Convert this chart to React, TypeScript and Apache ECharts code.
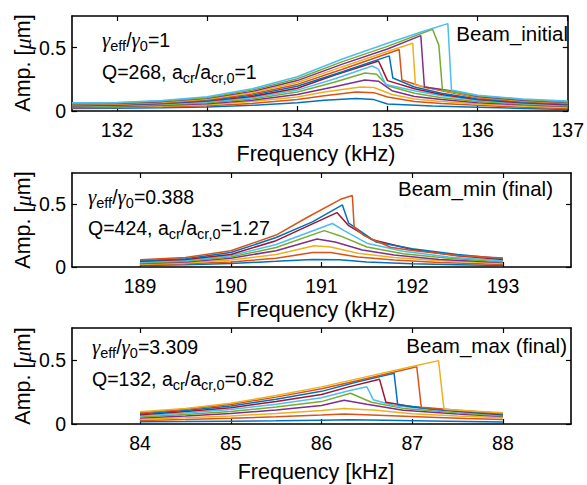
import React, { useEffect, useRef } from 'react';
import * as echarts from 'echarts';

const COLORS = ['#0072BD', '#D95319', '#EDB120', '#7E2F8E', '#77AC30', '#4DBEEE', '#A2142F'];
const FONT = '"Liberation Sans", Arial, Helvetica, sans-serif';
const SERIF = '"Liberation Serif", "DejaVu Serif", serif';

// ---- tick values ----
const initialTicks = [132, 133, 134, 135, 136, 137];
const minTicks = [189, 190, 191, 192, 193];
const maxTicks = [84, 85, 86, 87, 88];
const ampTicks = [0, 0.5];

// ---- panel 1: Beam_initial ----
const initial1 = [[131.5,0.02],[132,0.022],[132.5,0.025],[133,0.032],[133.5,0.045],[134,0.065],[134.3,0.085],[134.65,0.098],[134.85,0.09],[135,0.055],[135.5,0.04],[136,0.03],[136.5,0.02],[137,0.012]];
const initial2 = [[131.5,0.025],[132,0.028],[132.5,0.033],[133,0.042],[133.5,0.06],[134,0.09],[134.3,0.12],[134.65,0.15],[134.85,0.145],[135,0.11],[135.3,0.075],[135.6,0.06],[136,0.045],[136.5,0.03],[137,0.02]];
const initial3 = [[131.5,0.03],[132,0.033],[132.5,0.04],[133,0.05],[133.5,0.075],[134,0.11],[134.3,0.15],[134.7,0.19],[134.85,0.185],[135.05,0.13],[135.3,0.095],[135.6,0.075],[136,0.055],[136.5,0.04],[137,0.028]];
const initial4 = [[131.5,0.032],[132,0.036],[132.5,0.045],[133,0.058],[133.5,0.085],[134,0.13],[134.4,0.19],[134.75,0.245],[134.9,0.235],[135.05,0.16],[135.3,0.115],[135.6,0.09],[136,0.065],[136.5,0.05],[137,0.035]];
const initial5 = [[131.5,0.035],[132,0.04],[132.5,0.05],[133,0.065],[133.5,0.095],[134,0.15],[134.4,0.225],[134.75,0.3],[134.88,0.29],[135,0.2],[135.3,0.14],[135.6,0.105],[136,0.075],[136.5,0.055],[137,0.04]];
const initial6 = [[131.5,0.04],[132,0.045],[132.5,0.055],[133,0.072],[133.5,0.105],[134,0.165],[134.4,0.25],[134.83,0.355],[134.9,0.33],[134.98,0.21],[135.3,0.16],[135.6,0.12],[136,0.085],[136.5,0.06],[137,0.045]];
const initial7 = [[131.5,0.042],[132,0.048],[132.5,0.06],[133,0.078],[133.5,0.115],[134,0.18],[134.4,0.28],[134.9,0.395],[134.93,0.35],[135,0.24],[135.3,0.175],[135.6,0.13],[136,0.09],[136.5,0.065],[137,0.05]];
const initial8 = [[131.5,0.045],[132,0.05],[132.5,0.062],[133,0.082],[133.5,0.125],[134,0.195],[134.5,0.31],[135.02,0.435],[135.06,0.26],[135.3,0.19],[135.6,0.14],[136,0.095],[136.5,0.07],[137,0.055]];
const initial9 = [[131.5,0.048],[132,0.053],[132.5,0.066],[133,0.088],[133.5,0.135],[134,0.21],[134.5,0.33],[135.13,0.485],[135.16,0.245],[135.4,0.19],[135.7,0.145],[136,0.105],[136.5,0.075],[137,0.06]];
const initial10 = [[131.5,0.052],[132,0.056],[132.5,0.07],[133,0.094],[133.5,0.145],[134,0.225],[134.5,0.35],[135,0.47],[135.28,0.535],[135.31,0.205],[135.6,0.165],[136,0.11],[136.5,0.08],[137,0.065]];
const initial11 = [[131.5,0.055],[132,0.06],[132.5,0.074],[133,0.1],[133.5,0.155],[134,0.24],[134.5,0.37],[135,0.49],[135.37,0.595],[135.41,0.19],[135.7,0.16],[136,0.115],[136.5,0.085],[137,0.068]];
const initial12 = [[131.5,0.058],[132,0.063],[132.5,0.078],[133,0.105],[133.5,0.165],[134,0.255],[134.5,0.39],[135,0.51],[135.5,0.645],[135.57,0.52],[135.61,0.165],[136,0.12],[136.5,0.09],[137,0.072]];
const initial13 = [[131.5,0.065],[132,0.068],[132.5,0.082],[133,0.112],[133.5,0.175],[134,0.27],[134.5,0.41],[135,0.535],[135.4,0.63],[135.67,0.69],[135.71,0.165],[136,0.125],[136.5,0.095],[137,0.078]];

// ---- panel 2: Beam_min (final) ----
const min1 = [[189,0.012],[189.5,0.018],[190,0.028],[190.5,0.045],[190.9,0.06],[191.2,0.058],[191.5,0.04],[192,0.025],[192.5,0.018],[193,0.012]];
const min2 = [[189,0.018],[189.5,0.025],[190,0.04],[190.5,0.07],[190.9,0.115],[191.1,0.115],[191.4,0.08],[191.8,0.055],[192.3,0.035],[193,0.02]];
const min3 = [[189,0.022],[189.5,0.032],[190,0.055],[190.5,0.1],[190.92,0.17],[191.1,0.16],[191.4,0.11],[191.8,0.075],[192.3,0.05],[193,0.03]];
const min4 = [[189,0.028],[189.5,0.04],[190,0.07],[190.5,0.13],[190.95,0.224],[191.15,0.2],[191.45,0.135],[191.8,0.095],[192.3,0.06],[193,0.035]];
const min5 = [[189,0.032],[189.5,0.046],[190,0.08],[190.5,0.155],[191.03,0.29],[191.2,0.25],[191.5,0.16],[191.9,0.105],[192.4,0.07],[193,0.04]];
const min6 = [[189,0.038],[189.5,0.052],[190,0.09],[190.5,0.18],[191.12,0.347],[191.25,0.29],[191.5,0.19],[191.9,0.125],[192.4,0.08],[193,0.05]];
const min7 = [[189,0.045],[189.5,0.06],[190,0.1],[190.5,0.21],[191.17,0.434],[191.3,0.33],[191.55,0.22],[192,0.14],[192.5,0.09],[193,0.06]];
const min8 = [[189,0.05],[189.5,0.066],[190,0.115],[190.5,0.235],[190.9,0.36],[191.23,0.495],[191.3,0.35],[191.6,0.2],[192,0.145],[192.5,0.1],[193,0.065]];
const min9 = [[189,0.058],[189.5,0.075],[190,0.13],[190.5,0.255],[190.84,0.395],[191.21,0.54],[191.34,0.571],[191.36,0.316],[191.47,0.25],[191.76,0.158],[192,0.132],[192.5,0.092],[193,0.071]];

// ---- panel 3: Beam_max (final) ----
const max1 = [[84,0.018],[84.5,0.019],[85,0.022],[85.5,0.025],[86,0.03],[86.3,0.033],[86.7,0.03],[87.2,0.024],[87.6,0.02],[88,0.016]];
const max2 = [[84,0.028],[84.5,0.035],[85,0.045],[85.5,0.056],[86,0.07],[86.25,0.078],[86.7,0.066],[87.2,0.052],[87.6,0.042],[88,0.035]];
const max3 = [[84,0.038],[84.5,0.048],[85,0.063],[85.5,0.082],[86,0.105],[86.25,0.122],[86.6,0.108],[87,0.08],[87.5,0.062],[88,0.048]];
const max4 = [[84,0.047],[84.5,0.062],[85,0.082],[85.5,0.11],[86,0.145],[86.25,0.185],[86.5,0.155],[86.9,0.108],[87.5,0.078],[88,0.058]];
const max5 = [[84,0.055],[84.5,0.074],[85,0.098],[85.5,0.132],[86,0.175],[86.32,0.24],[86.55,0.17],[86.9,0.122],[87.5,0.088],[88,0.062]];
const max6 = [[84,0.064],[84.5,0.086],[85,0.113],[85.5,0.155],[86,0.205],[86.3,0.26],[86.5,0.291],[86.57,0.19],[86.8,0.145],[87.3,0.105],[88,0.068]];
const max7 = [[84,0.072],[84.5,0.097],[85,0.127],[85.5,0.175],[86,0.23],[86.3,0.29],[86.64,0.349],[86.71,0.17],[87,0.135],[87.5,0.1],[88,0.072]];
const max8 = [[84,0.08],[84.5,0.106],[85,0.14],[85.5,0.193],[86,0.255],[86.4,0.33],[86.8,0.397],[86.84,0.15],[87.2,0.12],[87.6,0.097],[88,0.077]];
const max9 = [[84,0.088],[84.5,0.115],[85,0.153],[85.5,0.21],[86,0.275],[86.5,0.355],[87.05,0.447],[87.1,0.13],[87.5,0.108],[88,0.082]];
const max10 = [[84,0.095],[84.5,0.122],[85,0.163],[85.5,0.222],[86,0.29],[86.5,0.37],[87,0.45],[87.29,0.495],[87.35,0.116],[87.7,0.1],[88,0.087]];

const initialCurves = [initial1, initial2, initial3, initial4, initial5, initial6, initial7, initial8, initial9, initial10, initial11, initial12, initial13];
const minCurves = [min1, min2, min3, min4, min5, min6, min7, min8, min9];
const maxCurves = [max1, max2, max3, max4, max5, max6, max7, max8, max9, max10];

const panels = [
  { curves: initialCurves, ticks: initialTicks, min: 131.5, max: 137, grid: { left: 72, top: 16, width: 499, height: 95 }, labelMargin: 11 },
  { curves: minCurves, ticks: minTicks, min: 188.25, max: 193.75, grid: { left: 72, top: 173, width: 499, height: 94 }, labelMargin: 11 },
  { curves: maxCurves, ticks: maxTicks, min: 83.25, max: 88.75, grid: { left: 72, top: 328, width: 499, height: 96 }, labelMargin: 11 },
];

const RICH: any = {
  n: { fontFamily: FONT, fontSize: 19.5, lineHeight: 26, verticalAlign: 'middle', fill: '#000' },
  b: { fontFamily: FONT, fontSize: 20.5, lineHeight: 22, verticalAlign: 'middle', fill: '#000' },
  g: { fontFamily: SERIF, fontStyle: 'italic', fontSize: 21, lineHeight: 26, verticalAlign: 'middle', fill: '#000' },
  s: { fontFamily: FONT, fontSize: 14.5, lineHeight: 14, verticalAlign: 'bottom', fill: '#000' },
  t: { fontFamily: FONT, fontSize: 21.5, lineHeight: 18, verticalAlign: 'middle', fill: '#000' },
  tm: { fontFamily: SERIF, fontStyle: 'italic', fontSize: 22.5, lineHeight: 18, verticalAlign: 'middle', fill: '#000' },
};

const txt = (x: number, y: number, text: string, align = 'left', rotation = 0) => ({
  type: 'text', x, y, rotation, silent: true, z: 100,
  style: { text, rich: RICH, textAlign: align, textVerticalAlign: 'middle', fill: '#000', fontFamily: FONT, fontSize: 19 },
});

export default function App() {
  const ref = useRef<HTMLDivElement>(null);
  useEffect(() => {
    if (!ref.current) return;
    const chart = echarts.init(ref.current, undefined, { renderer: 'svg' });
    const grid: any[] = [];
    const xAxis: any[] = [];
    const yAxis: any[] = [];
    const series: any[] = [];
    const axisLine = { show: true, onZero: false, lineStyle: { color: '#000', width: 1.6 } };
    panels.forEach((p, i) => {
      grid.push({ ...p.grid, containLabel: false });
      const xBase = {
        type: 'value', gridIndex: i, min: p.min, max: p.max, splitLine: { show: false }, axisLine,
        axisTick: { show: true, inside: true, length: 5, customValues: p.ticks, lineStyle: { color: '#000', width: 1.2 } },
      };
      xAxis.push({ ...xBase, position: 'bottom',
        axisLabel: { show: true, customValues: p.ticks, margin: p.labelMargin, color: '#000', fontFamily: FONT, fontSize: 19.5, lineHeight: 15 } });
      xAxis.push({ ...xBase, position: 'top', axisLabel: { show: false } });
      const yBase = {
        type: 'value', gridIndex: i, min: 0, max: 0.75, splitLine: { show: false }, axisLine,
        axisTick: { show: true, inside: true, length: 5, customValues: ampTicks, lineStyle: { color: '#000', width: 1.2 } },
      };
      yAxis.push({ ...yBase, position: 'left',
        axisLabel: { show: true, customValues: ampTicks, margin: 6, color: '#000', fontFamily: FONT, fontSize: 19.5,
          formatter: (v: number) => String(v) } });
      yAxis.push({ ...yBase, position: 'right', axisLabel: { show: false } });
      p.curves.forEach((data, j) => {
        series.push({
          type: 'line', xAxisIndex: i * 2, yAxisIndex: i * 2, data, showSymbol: false, symbol: 'none', silent: true,
          lineStyle: { color: COLORS[j % COLORS.length], width: 1.5 }, clip: true,
        });
      });
    });

    const graphic = [
      txt(23, 63, '{t|Amp. [}{tm|μ}{t|m]}', 'center', Math.PI / 2),
      txt(23, 220, '{t|Amp. [}{tm|μ}{t|m]}', 'center', Math.PI / 2),
      txt(23, 376, '{t|Amp. [}{tm|μ}{t|m]}', 'center', Math.PI / 2),
      txt(316, 154, '{t|Frequency (kHz)}', 'center'),
      txt(316, 310, '{t|Frequency (kHz)}', 'center'),
      txt(316, 472, '{t|Frequency [kHz]}', 'center'),
      txt(102, 40, '{g|γ}{s|eff}{n|/}{g|γ}{s|0}{n|=1}'),
      txt(102, 72, '{n|Q=268, a}{s|cr}{n|/a}{s|cr,0}{n|=1}'),
      txt(88, 197, '{g|γ}{s|eff}{n|/}{g|γ}{s|0}{n|=0.388}'),
      txt(88, 228, '{n|Q=424, a}{s|cr}{n|/a}{s|cr,0}{n|=1.27}'),
      txt(92, 347, '{g|γ}{s|eff}{n|/}{g|γ}{s|0}{n|=3.309}'),
      txt(92, 379, '{n|Q=132, a}{s|cr}{n|/a}{s|cr,0}{n|=0.82}'),
      txt(568, 33, '{b|Beam_initial}', 'right'),
      txt(553, 188, '{b|Beam_min (final)}', 'right'),
      txt(567, 345, '{b|Beam_max (final)}', 'right'),
    ];

    chart.setOption({
      animation: false,
      backgroundColor: '#fff',
      grid, xAxis, yAxis, series, graphic,
    });
    return () => chart.dispose();
  }, []);
  return <div ref={ref} style={{ position: 'absolute', left: 0, top: 0, width: 587, height: 485 }} />;
}
